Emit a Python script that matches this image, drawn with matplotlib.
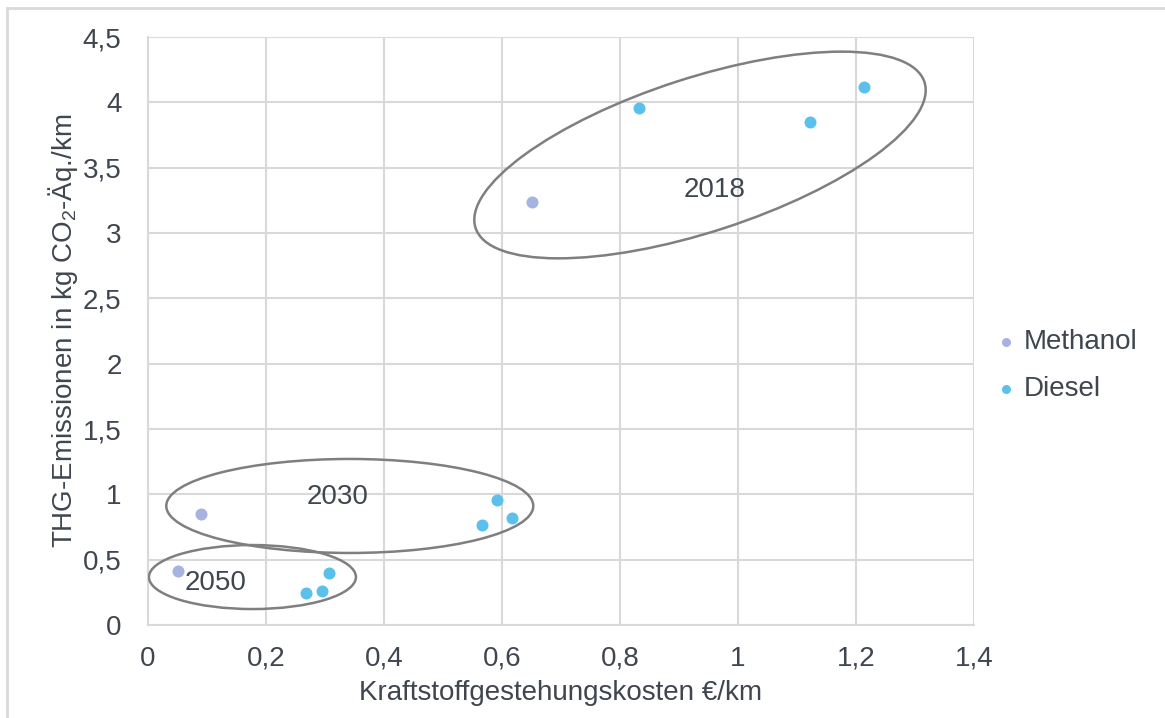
import matplotlib
matplotlib.use("Agg")
import matplotlib.pyplot as plt
import matplotlib.transforms as mtransforms
from matplotlib.patches import Ellipse, Rectangle
from matplotlib.ticker import FuncFormatter

plt.rcParams['font.family'] = ['Liberation Sans', 'DejaVu Sans']
plt.rcParams['mathtext.default'] = 'regular'

# Daten (Kosten in €/km, Emissionen in kg CO2-Äq./km)
methanol_kosten = [0.65, 0.09, 0.05]
methanol_thg = [3.24, 0.85, 0.41]
diesel_kosten = [0.832, 1.122, 1.214, 0.592, 0.566, 0.617, 0.307, 0.295, 0.268]
diesel_thg = [3.955, 3.85, 4.12, 0.96, 0.765, 0.82, 0.40, 0.26, 0.245]

# Gruppen: Jahr, Mitte (Daten), Breite/Hoehe (Zoll), Winkel, Beschriftung
jahre = ["2018", "2030", "2050"]
mitte_x = [0.9356, 0.342, 0.177]
mitte_y = [3.597, 0.911, 0.367]
breite = [4.72, 3.67, 2.07]
hoehe = [1.54, 0.94, 0.64]
winkel = [18, 0, 0]
label_x = [0.961, 0.322, 0.114]
label_y = [3.33, 0.98, 0.32]

textfarbe = "#404650"
gitter = "#D9D9D9"
fs = 20

fig = plt.figure(figsize=(11.65, 7.18), dpi=100)
ax = fig.add_axes([148 / 1165, 93 / 718, 826 / 1165, 588 / 718])

ax.scatter(methanol_kosten, methanol_thg, s=75, color="#A6B3E0", label="Methanol", zorder=3, linewidths=0)
ax.scatter(diesel_kosten, diesel_thg, s=75, color="#5BC1EC", label="Diesel", zorder=3, linewidths=0)

for i in range(len(jahre)):
    tr = fig.dpi_scale_trans + mtransforms.ScaledTranslation(mitte_x[i], mitte_y[i], ax.transData)
    e = Ellipse((0, 0), breite[i], hoehe[i], angle=winkel[i], transform=tr,
                fill=False, edgecolor="#7F7F7F", linewidth=1.8, zorder=4)
    ax.add_patch(e)
    ax.text(label_x[i], label_y[i], jahre[i], fontsize=fs, color=textfarbe,
            ha="center", va="center", zorder=5)

ax.set_xlim(0, 1.4)
ax.set_ylim(0, 4.5)
ax.set_xticks([0, 0.2, 0.4, 0.6, 0.8, 1.0, 1.2, 1.4])
ax.set_yticks([0, 0.5, 1, 1.5, 2, 2.5, 3, 3.5, 4, 4.5])
fmt = FuncFormatter(lambda v, p: ("%g" % round(v, 2)).replace(".", ","))
ax.xaxis.set_major_formatter(fmt)
ax.yaxis.set_major_formatter(fmt)
ax.tick_params(length=0, labelsize=fs, colors=textfarbe)
ax.tick_params(axis="y", pad=19)
ax.tick_params(axis="x", pad=15)
ax.grid(True, color=gitter, linewidth=1.5)
ax.set_axisbelow(True)
for s in ["top", "right"]:
    ax.spines[s].set_visible(False)
for s in ["left", "bottom"]:
    ax.spines[s].set_color(gitter)
    ax.spines[s].set_linewidth(1.5)

ax.set_xlabel("Kraftstoffgestehungskosten €/km", fontsize=fs, color=textfarbe, labelpad=6)
ax.set_ylabel("THG-Emissionen in kg CO$_2$-Äq./km", fontsize=fs, color=textfarbe, labelpad=2)

ax.legend(loc="center left", bbox_to_anchor=(1.025, 0.441), frameon=False, fontsize=fs,
          labelcolor=textfarbe, borderaxespad=0, borderpad=0, handlelength=0.8,
          handletextpad=0.25, markerscale=0.75, labelspacing=0.75)

# heller Rahmen um das Diagramm
fig.patches.append(Rectangle((7 / 1165, -0.1), 1.2, 1 - 8 / 718 + 0.1, transform=fig.transFigure,
                             fill=False, edgecolor="#D9D9D9", linewidth=2))

fig.savefig("out.png", dpi=100)
